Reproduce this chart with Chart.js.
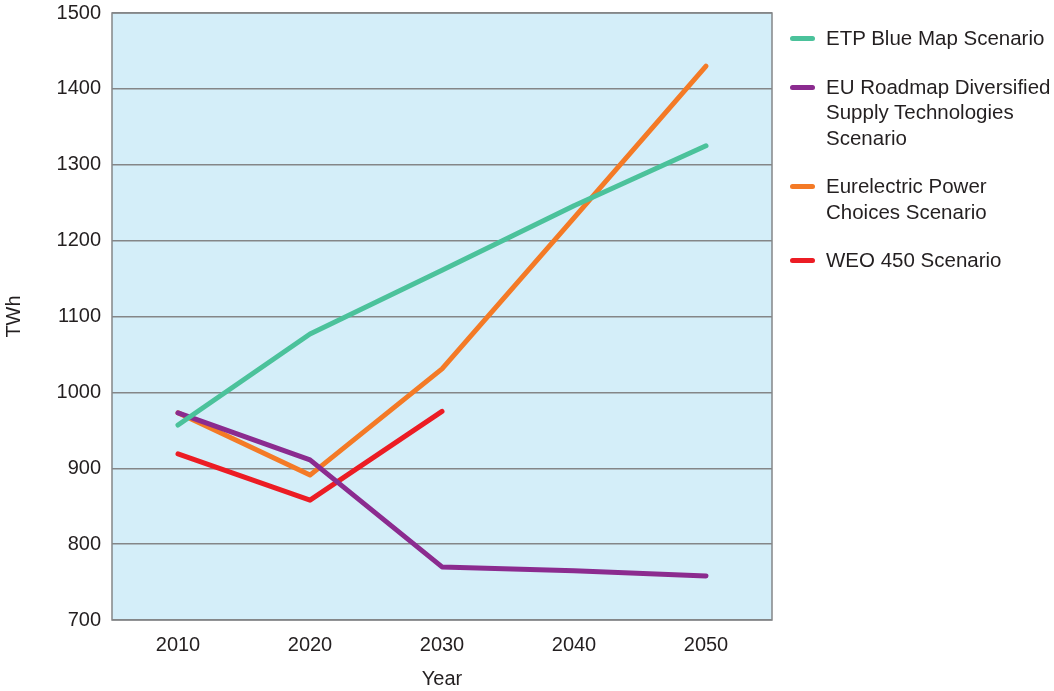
<!DOCTYPE html>
<html>
<head>
<meta charset="utf-8">
<script src="https://cdn.jsdelivr.net/npm/chart.js@4"></script>
<style>
    body { margin: 0; background: #fff; font-family: 'Liberation Sans', Arial, sans-serif; }
    #wrap { position: relative; width: 1054px; height: 691px; }
    #legend { position: absolute; left: 790px; top: 25px; color: #231f20; font-size: 20.5px; line-height: 25.5px; white-space: nowrap; }
    .item { position: relative; padding-left: 36px; margin-bottom: 23px; }
    .swatch { position: absolute; left: 0; top: 11px; width: 25px; height: 5px; border-radius: 3px; }
</style>
</head>
<body>
<div id="wrap">
    <canvas id="chart" width="1054" height="691"></canvas>
    <div id="legend"></div>
</div>
<script>
// Years on the x axis
const years = ['2010', '2020', '2030', '2040', '2050'];

// Scenario series (TWh)
const etpBlueMap = [957, 1077, 1161, 1246, 1325];
const euRoadmap = [973, 911, 770, 765, 758];
const eurelectric = [973, 891, 1031, 1230, 1430];
const weo450 = [919, 858, 975, null, null];

const seriesNames = [
    ['ETP Blue Map Scenario'],
    ['EU Roadmap Diversified', 'Supply Technologies', 'Scenario'],
    ['Eurelectric Power', 'Choices Scenario'],
    ['WEO 450 Scenario']
];
const seriesColors = ['#4bc29b', '#8b2b8f', '#f47a26', '#ec1c24'];
const seriesData = [etpBlueMap, euRoadmap, eurelectric, weo450];

// Plot background + frame
const framePlugin = {
    id: 'frame',
    beforeDraw(chart) {
        const a = chart.chartArea;
        const ctx = chart.ctx;
        ctx.save();
        ctx.fillStyle = '#d4eef9';
        ctx.fillRect(a.left, a.top, a.right - a.left, a.bottom - a.top);
        ctx.restore();
    },
    afterDatasetsDraw(chart) {
        const a = chart.chartArea;
        const ctx = chart.ctx;
        ctx.save();
        ctx.strokeStyle = '#848688';
        ctx.lineWidth = 1.5;
        ctx.strokeRect(a.left, a.top, a.right - a.left, a.bottom - a.top);
        ctx.restore();
    }
};

const tickFont = { family: "'Liberation Sans', Arial, sans-serif", size: 20 };

new Chart(document.getElementById('chart').getContext('2d'), {
    type: 'line',
    data: {
        labels: years,
        datasets: seriesData.map((d, i) => ({
            label: seriesNames[i].join(' '),
            data: d,
            borderColor: seriesColors[i],
            borderWidth: 5,
            borderCapStyle: 'round',
            borderJoinStyle: 'round',
            pointRadius: 0,
            tension: 0,
            spanGaps: false
        }))
    },
    options: {
        responsive: false,
        animation: false,
        layout: { padding: { top: 13, right: 282, left: 0, bottom: 0 } },
        plugins: {
            legend: { display: false },
            tooltip: { enabled: false }
        },
        scales: {
            x: {
                offset: true,
                grid: { display: false, drawTicks: false },
                border: { display: false },
                ticks: { color: '#231f20', font: tickFont, padding: 13, maxRotation: 0 },
                title: { display: true, text: 'Year', color: '#231f20', font: tickFont, padding: { top: 4, bottom: 0 } },
                afterFit: (s) => { s.height = 71; s.paddingLeft = 0; s.paddingRight = 0; }
            },
            y: {
                min: 700,
                max: 1500,
                ticks: { stepSize: 100, color: '#231f20', font: tickFont, padding: 11, callback: (v) => String(v) },
                grid: { color: '#848688', lineWidth: 1.5, drawTicks: false },
                border: { display: false },
                title: { display: true, text: 'TWh', color: '#231f20', font: tickFont, padding: { top: 2, bottom: 4 } },
                afterFit: (s) => { s.width = 112; s.paddingTop = 0; s.paddingBottom = 0; }
            }
        }
    },
    plugins: [framePlugin]
});

// HTML legend built from the series arrays
const legend = document.getElementById('legend');
seriesNames.forEach((lines, i) => {
    const item = document.createElement('div');
    item.className = 'item';
    const sw = document.createElement('span');
    sw.className = 'swatch';
    sw.style.background = seriesColors[i];
    item.appendChild(sw);
    lines.forEach(t => {
        const ln = document.createElement('div');
        ln.textContent = t;
        item.appendChild(ln);
    });
    legend.appendChild(item);
});
</script>
</body>
</html>
